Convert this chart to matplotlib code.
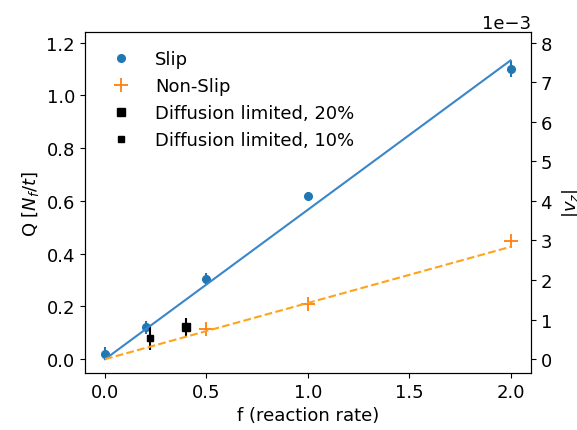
import numpy as np
import matplotlib
matplotlib.use('Agg')
import matplotlib.pyplot as plt

# reaction rate values
slip_f = [0.0, 0.2, 0.5, 1.0, 2.0]
slip_q = [0.02, 0.12, 0.305, 0.62, 1.10]
slip_err = [0.025, 0.025, 0.02, 0.015, 0.03]

nonslip_f = [0.5, 1.0, 2.0]
nonslip_q = [0.113, 0.21, 0.449]

diff20_f = [0.4]
diff20_q = [0.12]
diff20_err = [0.035]

diff10_f = [0.22]
diff10_q = [0.08]
diff10_err = [0.045]

# fitted slopes (lines through origin)
fit_f = [0.0, 2.0]
slip_slope = 0.5665
nonslip_slope = 0.213

plt.rcParams['font.size'] = 13

fig = plt.figure(figsize=(5.77, 4.31), dpi=100)
ax = fig.add_axes([0.147, 0.132, 0.773, 0.791])

ax.errorbar(slip_f, slip_q, yerr=slip_err, fmt='none', ecolor='C0', lw=1.5)
ax.plot(slip_f, slip_q, 'o', color='C0', ms=5.5, label='Slip')
ax.plot(nonslip_f, nonslip_q, '+', color='C1', ms=10, mew=1.3,
        label='Non-Slip')
ax.errorbar(diff20_f, diff20_q, yerr=diff20_err, fmt='none', ecolor='k',
            lw=1.5)
ax.plot(diff20_f, diff20_q, 's', color='k', ms=6,
        label='Diffusion limited, 20%')
ax.errorbar(diff10_f, diff10_q, yerr=diff10_err, fmt='none', ecolor='k',
            lw=1.5)
ax.plot(diff10_f, diff10_q, 's', color='k', ms=4.8,
        label='Diffusion limited, 10%')

fit_f = np.array(fit_f)
ax.plot(fit_f, slip_slope * fit_f, '-', color='#3a86c8', lw=1.5)
ax.plot(fit_f, nonslip_slope * fit_f, '--', color='#ffa31a', lw=1.5)

ax.set_xlim(-0.1, 2.1)
ax.set_ylim(-0.053, 1.24)
ax.set_xticks([0.0, 0.5, 1.0, 1.5, 2.0])
ax.set_yticks([0.0, 0.2, 0.4, 0.6, 0.8, 1.0, 1.2])
ax.set_xlabel('f (reaction rate)')
ax.set_ylabel('Q [$N_f/t$]')
ax.legend(loc='upper left', frameon=False, handlelength=2.0,
          handletextpad=0.9, borderaxespad=0.6)

ax2 = ax.twinx()
scale = 8e-3 / 1.2
ax2.set_ylim(-0.053 * scale, 1.24 * scale)
ax2.set_yticks(np.arange(0, 9) * 1e-3)
ax2.ticklabel_format(axis='y', style='sci', scilimits=(0, 0))
ax2.set_ylabel('$|v_z|$', labelpad=6)

fig.savefig('out.png', dpi=100)
